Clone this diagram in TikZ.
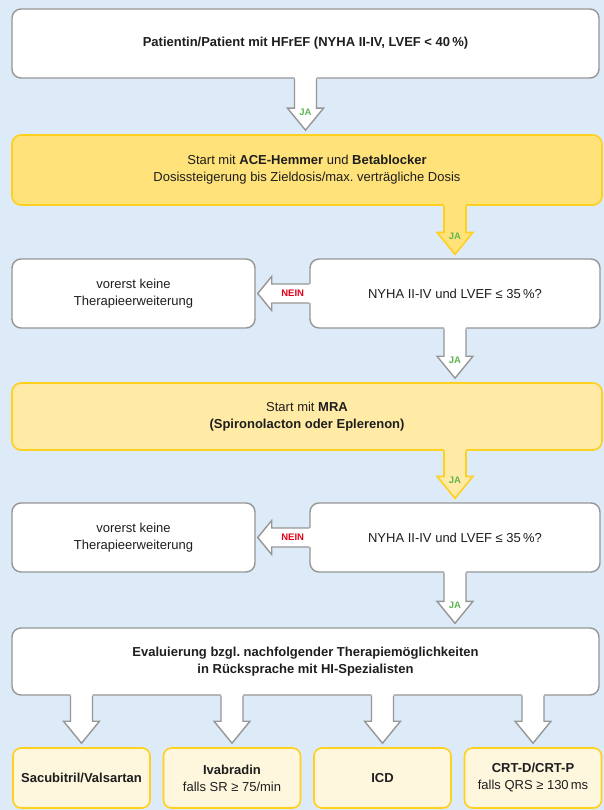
\documentclass[tikz,border=0pt]{standalone}
\usepackage{fontspec}
\setmainfont{Liberation Sans}
\usetikzlibrary{calc}
\frenchspacing

\definecolor{bgblue}{RGB}{220,235,247}
\definecolor{boxgray}{RGB}{150,150,150}
\definecolor{ygold}{RGB}{255,208,30}
\definecolor{yfillA}{RGB}{255,226,122}
\definecolor{yfillB}{RGB}{255,234,166}
\definecolor{cream}{RGB}{255,246,222}
\definecolor{jagreen}{RGB}{96,182,80}
\definecolor{neinred}{RGB}{226,0,26}
\definecolor{textdark}{RGB}{30,30,30}

% downward block arrow at the x of node #1, from the bottom of #2 to just above #3
\newcommand\downblock[5]{%
  \path let \p1=(#3.north), \p2=(#2.south), \p3=(#1.center) in
    coordinate (db-tip) at (\x3,\y1+4pt)
    coordinate (db-top) at (\x3,\y2);
  \fill[#4] ([shift={(-11pt,2pt)}]db-top) -- ([shift={(-11pt,22pt)}]db-tip)
    -- ([shift={(-18pt,22pt)}]db-tip) -- (db-tip) -- ([shift={(18pt,22pt)}]db-tip)
    -- ([shift={(11pt,22pt)}]db-tip) -- ([shift={(11pt,2pt)}]db-top) -- cycle;
  \draw[#5] ([xshift=-11pt]db-top) -- ([shift={(-11pt,22pt)}]db-tip)
    -- ([shift={(-18pt,22pt)}]db-tip) -- (db-tip) -- ([shift={(18pt,22pt)}]db-tip)
    -- ([shift={(11pt,22pt)}]db-tip) -- ([xshift=11pt]db-top);
}
% leftward block arrow from the left side of #1 to just right of #2
\newcommand\leftblock[2]{%
  \path let \p1=(#2.east), \p2=(#1.west) in
    coordinate (lb-tip) at (\x1+2pt,\y2)
    coordinate (lb-end) at (\x2,\y2);
  \fill[white] ([shift={(2pt,9.5pt)}]lb-end) -- ([shift={(14pt,9.5pt)}]lb-tip)
    -- ([shift={(14pt,17pt)}]lb-tip) -- (lb-tip) -- ([shift={(14pt,-17pt)}]lb-tip)
    -- ([shift={(14pt,-9.5pt)}]lb-tip) -- ([shift={(2pt,-9.5pt)}]lb-end) -- cycle;
  \draw[grayline] ([yshift=9.5pt]lb-end) -- ([shift={(14pt,9.5pt)}]lb-tip)
    -- ([shift={(14pt,17pt)}]lb-tip) -- (lb-tip) -- ([shift={(14pt,-17pt)}]lb-tip)
    -- ([shift={(14pt,-9.5pt)}]lb-tip) -- ([yshift=-9.5pt]lb-end);
}

\begin{document}
\begin{tikzpicture}[x=1pt,y=-1pt,
  txt/.style={font=\fontsize{13}{17}\selectfont, text=textdark, align=center, inner sep=0pt},
  whitebox/.style={txt, draw=boxgray, fill=white, line width=1.4pt, rounded corners=9pt},
  yellowbox/.style={txt, draw=ygold, fill=yfillA, line width=1.6pt, rounded corners=9pt},
  paleybox/.style={yellowbox, fill=yfillB},
  creambox/.style={yellowbox, fill=cream, rounded corners=8pt},
  grayline/.style={draw=boxgray, line width=1.4pt, line join=miter},
  yline/.style={draw=ygold, line width=1.6pt, line join=miter},
  jalabel/.style={font=\fontsize{9.5}{9.5}\selectfont\bfseries, text=jagreen, inner sep=0pt},
  neinlabel/.style={font=\fontsize{9.5}{9.5}\selectfont\bfseries, text=neinred, inner sep=0pt}]

\useasboundingbox (0,0) rectangle (604,810);
\fill[bgblue] (0,0) rectangle (604,810);

% boxes
\node[whitebox, minimum width=587pt, minimum height=69pt] (start) at (305.5,43.5)
  {\bfseries Patientin/Patient mit HFrEF (NYHA II-IV, LVEF < 40\,\%)};
\node[yellowbox, minimum width=590pt, minimum height=70pt] (ace) at (307,170)
  {Start mit \textbf{ACE-Hemmer} und \textbf{Betablocker}\\Dosissteigerung bis Zieldosis/max. verträgliche Dosis};
\node[whitebox, minimum width=290pt, minimum height=69pt] (q1) at (455,293.5)
  {NYHA II-IV und LVEF ≤ 35\,\%?};
\node[whitebox, minimum width=243pt, minimum height=69pt] (n1) at (133.5,293.5)
  {vorerst keine\\Therapieerweiterung};
\node[paleybox, minimum width=590pt, minimum height=67pt] (mra) at (307,416.5)
  {Start mit \textbf{MRA}\\\textbf{(Spironolacton oder Eplerenon)}};
\node[whitebox, minimum width=290pt, minimum height=69pt] (q2) at (455,537.5)
  {NYHA II-IV und LVEF ≤ 35\,\%?};
\node[whitebox, minimum width=243pt, minimum height=69pt] (n2) at (133.5,537.5)
  {vorerst keine\\Therapieerweiterung};
\node[whitebox, minimum width=587pt, minimum height=67pt] (eval) at (305.5,661.5)
  {\bfseries Evaluierung bzgl. nachfolgender Therapiemöglichkeiten\\\bfseries in Rücksprache mit HI-Spezialisten};
\node[creambox, minimum width=137pt, minimum height=60pt] (b1) at (81.5,778)
  {\bfseries Sacubitril/Valsartan};
\node[creambox, minimum width=137pt, minimum height=60pt] (b2) at (232,778)
  {\textbf{Ivabradin}\\falls SR ≥ 75/min};
\node[creambox, minimum width=137pt, minimum height=60pt] (b3) at (382.5,778)
  {\bfseries ICD};
\node[creambox, minimum width=137pt, minimum height=60pt] (b4) at (533,778)
  {\textbf{CRT-D/CRT-P}\\falls QRS ≥ 130\,ms};

% connectors
\downblock{start}{start}{ace}{white}{grayline}
\node[jalabel] (ja1) at ([yshift=18pt]db-tip) {JA};
\downblock{q1}{ace}{q1}{yfillA}{yline}
\node[jalabel] (ja2) at ([yshift=18pt]db-tip) {JA};
\leftblock{q1}{n1}
\node[neinlabel] (nein1) at ([xshift=35pt]lb-tip) {NEIN};
\downblock{q1}{q1}{mra}{white}{grayline}
\node[jalabel] (ja3) at ([yshift=18pt]db-tip) {JA};
\downblock{q2}{mra}{q2}{yfillB}{yline}
\node[jalabel] (ja4) at ([yshift=18pt]db-tip) {JA};
\leftblock{q2}{n2}
\node[neinlabel] (nein2) at ([xshift=35pt]lb-tip) {NEIN};
\downblock{q2}{q2}{eval}{white}{grayline}
\node[jalabel] (ja5) at ([yshift=18pt]db-tip) {JA};
\downblock{b1}{eval}{b1}{white}{grayline}
\downblock{b2}{eval}{b2}{white}{grayline}
\downblock{b3}{eval}{b3}{white}{grayline}
\downblock{b4}{eval}{b4}{white}{grayline}
\end{tikzpicture}
\end{document}
